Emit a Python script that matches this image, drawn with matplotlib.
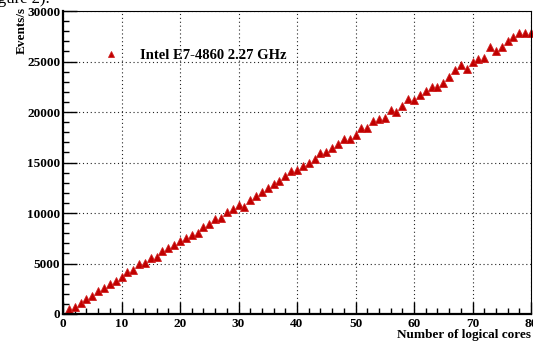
import numpy as np
import matplotlib
matplotlib.use("Agg")
import matplotlib.pyplot as plt
from matplotlib.ticker import MultipleLocator

cores = list(range(1, 81))
events = [525, 660, 1060, 1450, 1780, 2240, 2540, 2970, 3300, 3700,
          4120, 4350, 4920, 5080, 5510, 5680, 6240, 6560, 6830, 7250,
          7490, 7820, 8050, 8650, 8910, 9370, 9500, 10100, 10430, 10820,
          10620, 11290, 11720, 12050, 12440, 12840, 13170, 13660, 14140, 14260,
          14650, 14980, 15320, 15970, 16040, 16410, 16800, 17360, 17290, 17720,
          18450, 18420, 19140, 19280, 19410, 20200, 20020, 20620, 21290, 21190,
          21720, 22110, 22440, 22510, 22870, 23500, 24160, 24620, 24290, 24920,
          25280, 25380, 26470, 26010, 26440, 27060, 27430, 27850, 27790, 27790]
label = "Intel E7-4860 2.27 GHz"

plt.rcParams['font.family'] = ['Liberation Serif', 'DejaVu Serif']
plt.rcParams['font.weight'] = 'bold'

W, H = 533, 343
fig = plt.figure(figsize=(W / 100, H / 100), dpi=100)
ax = fig.add_axes([63 / W, 1 - 314 / H, (531 - 63) / W, (314 - 11) / H])

ax.plot(cores, events, linestyle='none', marker='^', markersize=5.3,
        color='#c00000', markeredgecolor='#d02020', markeredgewidth=0.6,
        label=label, clip_on=False)

ax.set_xlim(0, 80)
ax.set_ylim(0, 30000)
ax.xaxis.set_major_locator(MultipleLocator(10))
ax.xaxis.set_minor_locator(MultipleLocator(2))
ax.yaxis.set_major_locator(MultipleLocator(5000))
ax.yaxis.set_minor_locator(MultipleLocator(1000))

ax.tick_params(which='both', direction='in', top=False, right=False,
               labelsize=9.5, width=1.0)
ax.tick_params(axis='x', which='major', length=9, pad=3)
ax.tick_params(axis='x', which='minor', length=4.5)
ax.tick_params(axis='y', which='major', length=10, pad=2)
ax.tick_params(axis='y', which='minor', length=4)

ax.grid(True, which='major', color='#222222', linestyle=(0, (1, 2.5)), linewidth=0.8)
for s in ['left', 'bottom']:
    ax.spines[s].set_linewidth(1.6)
for s in ['top', 'right']:
    ax.spines[s].set_linewidth(0.8)

leg = ax.legend(loc='center left', bbox_to_anchor=(96 / W, 1 - 55 / H),
                bbox_transform=fig.transFigure, frameon=False, fontsize=10.5,
                handlelength=2.0, handletextpad=1.0, borderpad=0,
                borderaxespad=0, numpoints=1, markerscale=0.8)

fig.text(22 / W, 1 - 7 / H, "Events/s", rotation=90, ha='center', va='top',
         fontsize=9.5)
fig.text(531 / W, 1 - 335 / H, "Number of logical cores", ha='right',
         va='center', fontsize=9.5)
# cropped caption line from the page above the figure
fig.text(50 / W, 1 - 3 / H, "(figure 2).", ha='right', va='baseline',
         fontsize=12, fontweight='normal')

fig.savefig("out.png", dpi=100)
